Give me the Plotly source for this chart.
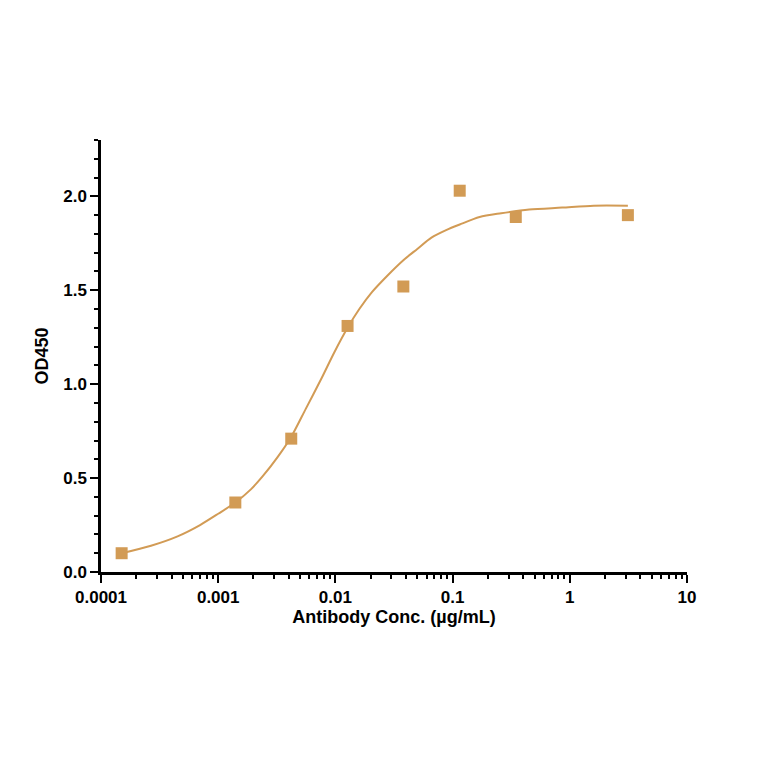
import plotly.graph_objects as go

# measured points
conc = [0.00015, 0.0014, 0.0042, 0.0127, 0.038, 0.115, 0.346, 3.13]
od450 = [0.10, 0.37, 0.71, 1.31, 1.52, 2.03, 1.89, 1.90]

# fitted curve
curve_x = [0.00015, 0.000267, 0.00045, 0.0007, 0.001, 0.0014, 0.0019, 0.0024, 0.0032,
           0.0042, 0.0056, 0.0076, 0.0098, 0.0127, 0.016, 0.0205, 0.028, 0.038,
           0.05, 0.066, 0.088, 0.115, 0.17, 0.26, 0.45, 0.86, 1.6, 3.13]
curve_y = [0.10, 0.14, 0.19, 0.25, 0.31, 0.37, 0.44, 0.51, 0.61,
           0.72, 0.87, 1.03, 1.17, 1.30, 1.40, 1.49, 1.58, 1.66,
           1.72, 1.78, 1.82, 1.85, 1.89, 1.91, 1.93, 1.94, 1.95, 1.95]

color = "#D29B55"
minor_x = [m * 10 ** e for e in range(-4, 1) for m in range(2, 10)]

fig = go.Figure()
fig.add_trace(go.Scatter(x=curve_x, y=curve_y, mode="lines",
                         line=dict(color=color, width=2, shape="spline", smoothing=0.8),
                         hoverinfo="skip"))
fig.add_trace(go.Scatter(x=conc, y=od450, mode="markers",
                         marker=dict(symbol="square", size=12, color=color)))

font = dict(family="Liberation Sans, Arial", size=17, color="black")
fig.update_layout(
    width=764, height=764, showlegend=False,
    plot_bgcolor="white", paper_bgcolor="white",
    margin=dict(l=93, r=85, t=132, b=200),
    font=font,
)
fig.update_xaxes(
    type="log", range=[-4, 1],
    tickvals=[0.0001, 0.001, 0.01, 0.1, 1, 10],
    ticktext=["<b>0.0001</b>", "<b>0.001</b>", "<b>0.01</b>", "<b>0.1</b>", "<b>1</b>", "<b>10</b>"],
    showline=True, linecolor="black", linewidth=2.5,
    ticks="outside", ticklen=8, tickwidth=2, tickcolor="black",
    minor=dict(tickvals=minor_x, ticks="outside", ticklen=4, tickwidth=1.5,
               tickcolor="black", showgrid=False),
    showgrid=False, zeroline=False,
    title=dict(text="<b>Antibody Conc. (µg/mL)</b>", font=dict(size=18), standoff=5),
)
fig.update_yaxes(
    range=[0, 2.3],
    tickvals=[0, 0.5, 1.0, 1.5, 2.0],
    ticktext=["<b>0.0</b>", "<b>0.5</b>", "<b>1.0</b>", "<b>1.5</b>", "<b>2.0</b>"],
    showline=True, linecolor="black", linewidth=2.5,
    ticks="outside", ticklen=8, tickwidth=2, tickcolor="black",
    minor=dict(ticks="outside", ticklen=4, tickwidth=1.5, tickcolor="black", dtick=0.1),
    showgrid=False, zeroline=False,
    title=dict(text="<b>OD450</b>", font=dict(size=18), standoff=10),
)
fig.write_html("out.html")
